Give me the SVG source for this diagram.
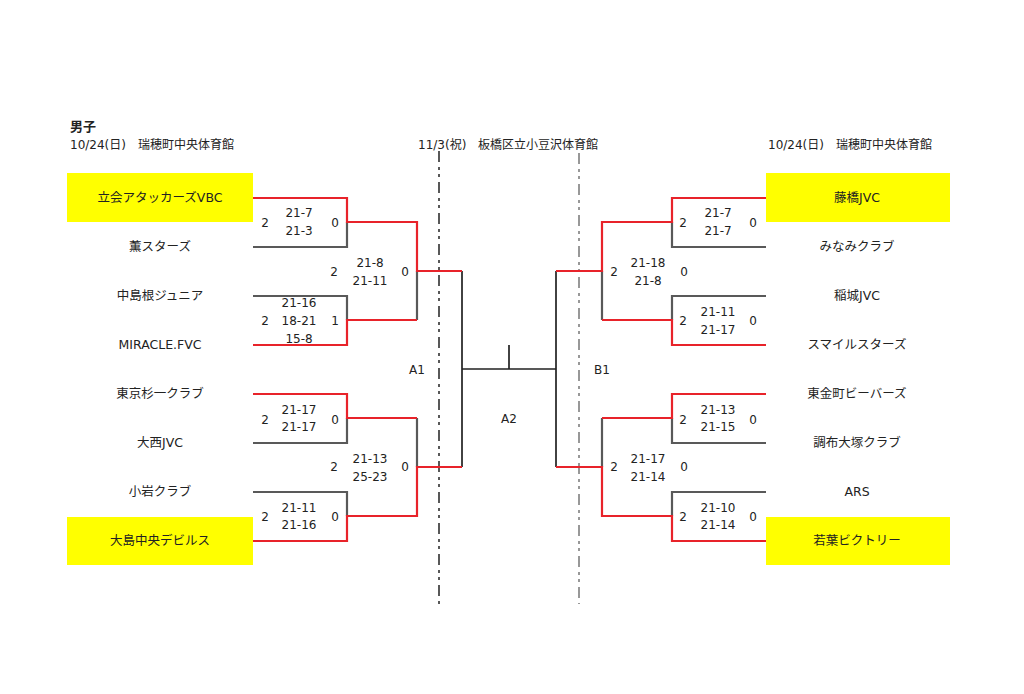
<svg xmlns="http://www.w3.org/2000/svg" width="1024" height="694" viewBox="0 0 1024 694">
<style>
text{font-family:"DejaVu Sans","Noto Sans CJK JP",sans-serif;font-size:12px;fill:#222}
.t{font-size:12.5px;text-anchor:middle}
.s{text-anchor:middle}
.h{font-size:12px}
.b{font-weight:bold;font-size:13px}
.yb{fill:#ffff00}
.r{fill:none;stroke:#e8232a;stroke-width:2.2}
.g{fill:none;stroke:#595959;stroke-width:2.2}
.k{fill:none;stroke:#222;stroke-width:1.7}
.d1{stroke:#222;stroke-width:1.5;stroke-dasharray:11 5 3 4 3 5}
.d2{stroke:#777;stroke-width:1.5;stroke-dasharray:11 5 3 4 3 5}
</style>
<rect width="1024" height="694" fill="#fff"/>
<g id="headers">
<text class="b" x="70" y="131">男子</text>
<text class="h" x="70" y="149">10/24(日)</text>
<text class="h" x="138" y="149">瑞穂町中央体育館</text>
<text class="h" x="418" y="149">11/3(祝)</text>
<text class="h" x="478" y="149">板橋区立小豆沢体育館</text>
<text class="h" x="768" y="149">10/24(日)</text>
<text class="h" x="836" y="149">瑞穂町中央体育館</text>
</g>
<g id="dividers">
<line class="d1" x1="439" y1="151" x2="439" y2="604"/>
<line class="d2" x1="579" y1="153" x2="579" y2="604"/>
</g>
<g id="connectors">
<path class="g" d="M253,247H347V222M253,296H347V320M417,271V320M253,443H347V418M253,492H347V516M417,418V467"/>
<path class="g" d="M766,247H672V222M766,296H672V320M602,271V320M766,443H672V418M766,492H672V516M602,418V467"/>
<path class="k" d="M462,271V467M462,369H556M509,345V369M556,271V467"/>
<path class="r" d="M253,198H347V222H417V271H462M253,345H347V320H417M253,394H347V418H417M253,541H347V516H417V467H462"/>
<path class="r" d="M766,198H672V222H602V271H556M766,345H672V320H602M766,394H672V418H602M766,541H672V516H602V467H556"/>
</g>
<g id="team-l1"><rect class="yb" x="67" y="173" width="186" height="49"/><text class="t" x="160" y="202">立会アタッカーズVBC</text></g>
<g id="team-l2"><text class="t" x="160" y="251">薫スターズ</text></g>
<g id="team-l3"><text class="t" x="160" y="300">中島根ジュニア</text></g>
<g id="team-l4"><text class="t" x="160" y="349">MIRACLE.FVC</text></g>
<g id="team-l5"><text class="t" x="160" y="398">東京杉一クラブ</text></g>
<g id="team-l6"><text class="t" x="160" y="447">大西JVC</text></g>
<g id="team-l7"><text class="t" x="160" y="496">小岩クラブ</text></g>
<g id="team-l8"><rect class="yb" x="67" y="517" width="186" height="48"/><text class="t" x="160" y="545">大島中央デビルス</text></g>
<g id="team-r1"><rect class="yb" x="766" y="173" width="184" height="49"/><text class="t" x="857" y="202">藤橋JVC</text></g>
<g id="team-r2"><text class="t" x="857" y="251">みなみクラブ</text></g>
<g id="team-r3"><text class="t" x="857" y="300">稲城JVC</text></g>
<g id="team-r4"><text class="t" x="857" y="349">スマイルスターズ</text></g>
<g id="team-r5"><text class="t" x="857" y="398">東金町ビーバーズ</text></g>
<g id="team-r6"><text class="t" x="857" y="447">調布大塚クラブ</text></g>
<g id="team-r7"><text class="t" x="857" y="496">ARS</text></g>
<g id="team-r8"><rect class="yb" x="766" y="517" width="184" height="48"/><text class="t" x="857" y="545">若葉ビクトリー</text></g>
<g id="scores-left">
<text class="s" x="265" y="227">2</text><text class="s" x="299" y="217">21-7</text><text class="s" x="299" y="235">21-3</text><text class="s" x="335" y="227">0</text>
<text class="s" x="265" y="325">2</text><text class="s" x="299" y="307">21-16</text><text class="s" x="299" y="325">18-21</text><text class="s" x="299" y="343">15-8</text><text class="s" x="335" y="325">1</text>
<text class="s" x="334" y="276">2</text><text class="s" x="370" y="267">21-8</text><text class="s" x="370" y="285">21-11</text><text class="s" x="405" y="276">0</text>
<text class="s" x="265" y="424">2</text><text class="s" x="299" y="414">21-17</text><text class="s" x="299" y="431">21-17</text><text class="s" x="335" y="424">0</text>
<text class="s" x="334" y="471">2</text><text class="s" x="370" y="463">21-13</text><text class="s" x="370" y="481">25-23</text><text class="s" x="405" y="471">0</text>
<text class="s" x="265" y="521">2</text><text class="s" x="299" y="512">21-11</text><text class="s" x="299" y="529">21-16</text><text class="s" x="335" y="521">0</text>
</g>
<g id="scores-right">
<text class="s" x="683" y="227">2</text><text class="s" x="718" y="217">21-7</text><text class="s" x="718" y="235">21-7</text><text class="s" x="753" y="227">0</text>
<text class="s" x="614" y="276">2</text><text class="s" x="648" y="267">21-18</text><text class="s" x="648" y="285">21-8</text><text class="s" x="684" y="276">0</text>
<text class="s" x="683" y="325">2</text><text class="s" x="718" y="316">21-11</text><text class="s" x="718" y="334">21-17</text><text class="s" x="753" y="325">0</text>
<text class="s" x="683" y="424">2</text><text class="s" x="718" y="414">21-13</text><text class="s" x="718" y="431">21-15</text><text class="s" x="753" y="424">0</text>
<text class="s" x="614" y="471">2</text><text class="s" x="648" y="463">21-17</text><text class="s" x="648" y="481">21-14</text><text class="s" x="684" y="471">0</text>
<text class="s" x="683" y="521">2</text><text class="s" x="718" y="512">21-10</text><text class="s" x="718" y="529">21-14</text><text class="s" x="753" y="521">0</text>
</g>
<g id="labels">
<text class="s" x="417" y="374">A1</text>
<text class="s" x="509" y="423">A2</text>
<text class="s" x="602" y="374">B1</text>
</g>
</svg>
